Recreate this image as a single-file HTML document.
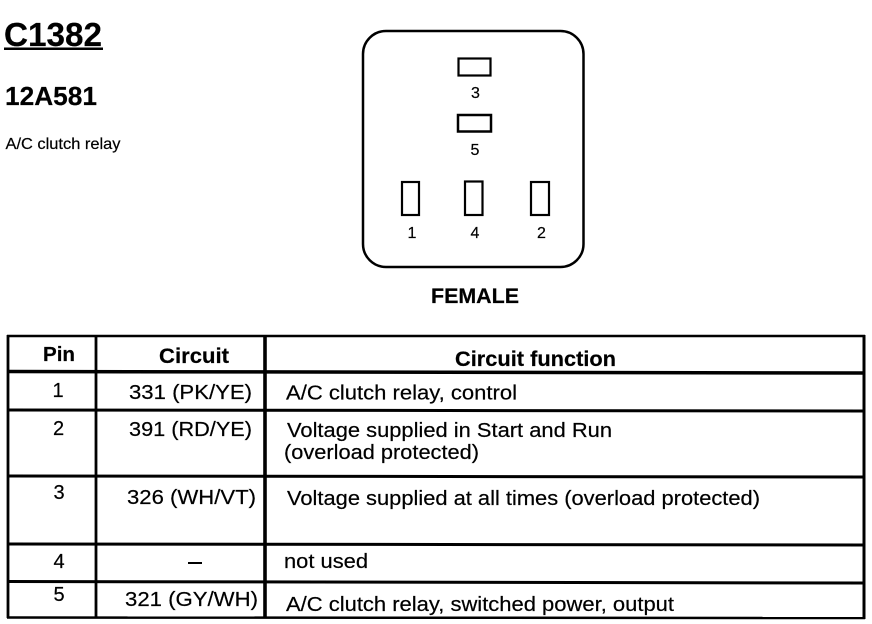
<!DOCTYPE html>
<html>
<head>
<meta charset="utf-8">
<style>
html,body{margin:0;padding:0;background:#fff;}
body{width:872px;height:624px;overflow:hidden;}
svg{display:block;}
text{font-family:"Liberation Sans",sans-serif;fill:#000;stroke:#000;stroke-width:.2;}
</style>
</head>
<body>
<svg width="872" height="624" viewBox="0 0 872 624" xmlns="http://www.w3.org/2000/svg">
<text x="4" y="46" font-size="33" font-weight="bold" textLength="98" lengthAdjust="spacingAndGlyphs">C1382</text>
<rect x="4" y="47.500" width="99" height="2.500" fill="#000"/>
<text x="5" y="105" font-size="26" font-weight="bold" textLength="92" lengthAdjust="spacingAndGlyphs">12A581</text>
<text x="5.500" y="149" font-size="16" textLength="115" lengthAdjust="spacingAndGlyphs">A/C clutch relay</text>

<rect x="363" y="31" width="220.500" height="236" rx="23" ry="23" fill="none" stroke="#000" stroke-width="2.500"/>
<rect x="458.500" y="58.500" width="32" height="17" fill="none" stroke="#000" stroke-width="2.200"/>
<rect x="458" y="115" width="33" height="16.500" fill="none" stroke="#000" stroke-width="2.500"/>
<rect x="402" y="182" width="17" height="33" fill="none" stroke="#000" stroke-width="2.200"/>
<rect x="465" y="181.500" width="17.500" height="33.500" fill="none" stroke="#000" stroke-width="2.200"/>
<rect x="531" y="182" width="18" height="33" fill="none" stroke="#000" stroke-width="2.200"/>
<g font-size="16" text-anchor="middle">
<text x="475.500" y="98">3</text>
<text x="475" y="155">5</text>
<text x="412" y="238">1</text>
<text x="475" y="238">4</text>
<text x="541.500" y="238">2</text>
</g>
<text x="431" y="303" font-size="21" font-weight="bold" textLength="88" lengthAdjust="spacingAndGlyphs">FEMALE</text>

<g stroke="#000" fill="none">
<line x1="7" y1="336" x2="865" y2="336" stroke-width="2.500"/>
<line x1="7" y1="617.500" x2="865" y2="618" stroke-width="2.500"/>
<line x1="8" y1="335" x2="8" y2="618" stroke-width="2.800"/>
<line x1="864" y1="335" x2="864" y2="619" stroke-width="3"/>
<line x1="8" y1="371.500" x2="864" y2="373" stroke-width="3.500"/>
<line x1="8" y1="410" x2="864" y2="411" stroke-width="3"/>
<line x1="8" y1="476" x2="864" y2="477" stroke-width="3"/>
<line x1="8" y1="544" x2="864" y2="545" stroke-width="3"/>
<line x1="8" y1="581.500" x2="864" y2="583" stroke-width="3"/>
<line x1="96" y1="336" x2="96" y2="618" stroke-width="2.800"/>
<line x1="265" y1="336" x2="265" y2="618" stroke-width="3.600"/>
</g>

<g font-size="20">
<text x="43" y="361" font-weight="bold" textLength="32" lengthAdjust="spacingAndGlyphs">Pin</text>
<text x="159" y="363" font-size="21" font-weight="bold" textLength="70" lengthAdjust="spacingAndGlyphs">Circuit</text>
<text x="455" y="366" font-size="21" font-weight="bold" textLength="161" lengthAdjust="spacingAndGlyphs">Circuit function</text>

<text x="58" y="397" text-anchor="middle">1</text>
<text x="129" y="399" textLength="123" lengthAdjust="spacingAndGlyphs">331 (PK/YE)</text>
<text x="286" y="399.500" textLength="231" lengthAdjust="spacingAndGlyphs">A/C clutch relay, control</text>

<text x="58.500" y="435" text-anchor="middle">2</text>
<text x="129" y="436" textLength="123" lengthAdjust="spacingAndGlyphs">391 (RD/YE)</text>
<text x="287" y="437" textLength="325" lengthAdjust="spacingAndGlyphs">Voltage supplied in Start and Run</text>
<text x="284" y="459" textLength="195" lengthAdjust="spacingAndGlyphs">(overload protected)</text>

<text x="59" y="499" text-anchor="middle">3</text>
<text x="127" y="504" textLength="129" lengthAdjust="spacingAndGlyphs">326 (WH/VT)</text>
<text x="287" y="505" textLength="473" lengthAdjust="spacingAndGlyphs">Voltage supplied at all times (overload protected)</text>

<text x="59" y="568" text-anchor="middle">4</text>
<rect x="188" y="562" width="14" height="2" fill="#000"/>
<text x="284" y="568" textLength="84" lengthAdjust="spacingAndGlyphs">not used</text>

<text x="59" y="601" text-anchor="middle">5</text>
<text x="125" y="606" textLength="133" lengthAdjust="spacingAndGlyphs">321 (GY/WH)</text>
<text x="286" y="611" textLength="388" lengthAdjust="spacingAndGlyphs">A/C clutch relay, switched power, output</text>
</g>
</svg>
</body>
</html>
